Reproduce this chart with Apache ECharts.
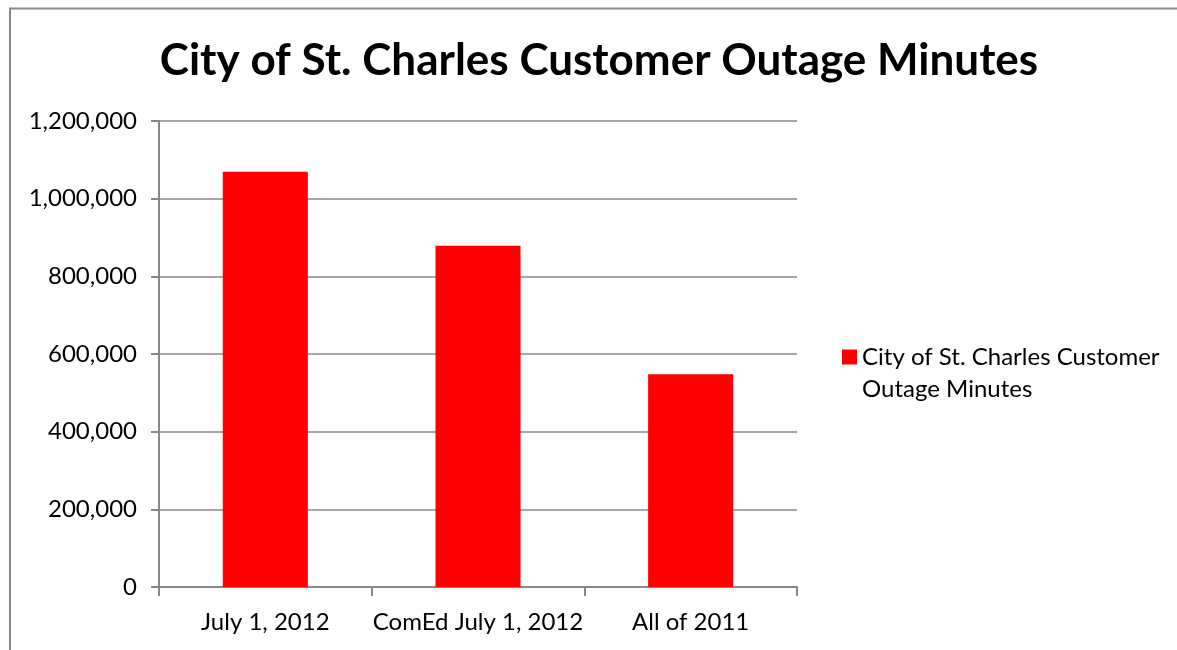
<!DOCTYPE html>
<html><head><meta charset="utf-8">
<script src="https://cdn.jsdelivr.net/npm/echarts@6/dist/echarts.min.js"></script>
<style>html,body{margin:0;padding:0;background:#fff}#c{width:1177px;height:650px}</style>
</head><body><div id="c"></div>
<script>
const categories = ["July 1, 2012", "ComEd July 1, 2012", "All of 2011"];
const seriesName = "City of St. Charles Customer Outage Minutes";
const values = [1069000, 879000, 548000];
const titleText = "City of St. Charles Customer Outage Minutes";

const chart = echarts.init(document.getElementById('c'));
const font = "Lato, 'Open Sans', sans-serif";
chart.setOption({
  animation: false,
  backgroundColor: '#fff',
  textStyle: { fontFamily: font },
  title: {
    text: titleText, left: 599, top: 39, textAlign: 'center', padding: 0,
    textStyle: { fontSize: 44, fontWeight: 'bold', color: '#000', fontFamily: font }
  },
  graphic: [{
    type: 'polyline', silent: true,
    shape: { points: [[10, 660], [10, 8.5], [1190, 8.5]] },
    style: { stroke: '#888', lineWidth: 2, fill: null }
  }],
  legend: {
    left: 842, top: 309, orient: 'vertical', padding: 0,
    itemWidth: 15, itemHeight: 15,
    icon: 'rect',
    formatter: function () { return ' \nCity of St. Charles Customer\nOutage Minutes'; },
    textStyle: { fontSize: 24, color: '#000', lineHeight: 32, fontFamily: font }
  },
  grid: { left: 159, right: 380, top: 121, bottom: 63, containLabel: false },
  xAxis: {
    type: 'category', data: categories,
    axisLine: { lineStyle: { color: '#888', width: 2 } },
    axisTick: { show: true, length: 9, lineStyle: { color: '#888', width: 2 } },
    axisLabel: { fontSize: 24, color: '#000', margin: 23, interval: 0, fontFamily: font }
  },
  yAxis: {
    type: 'value', min: 0, max: 1200000, interval: 200000,
    axisLine: { show: true, lineStyle: { color: '#888', width: 2 } },
    axisTick: { show: true, length: 8, lineStyle: { color: '#888', width: 2 } },
    splitLine: { lineStyle: { color: '#888', width: 1.5 } },
    axisLabel: {
      fontSize: 24, color: '#000', margin: 22, fontFamily: font,
      formatter: v => v.toLocaleString('en-US')
    }
  },
  series: [{
    name: seriesName, type: 'bar', data: values,
    barWidth: '40%',
    itemStyle: { color: '#ff0000' }
  }]
});
</script></body></html>
